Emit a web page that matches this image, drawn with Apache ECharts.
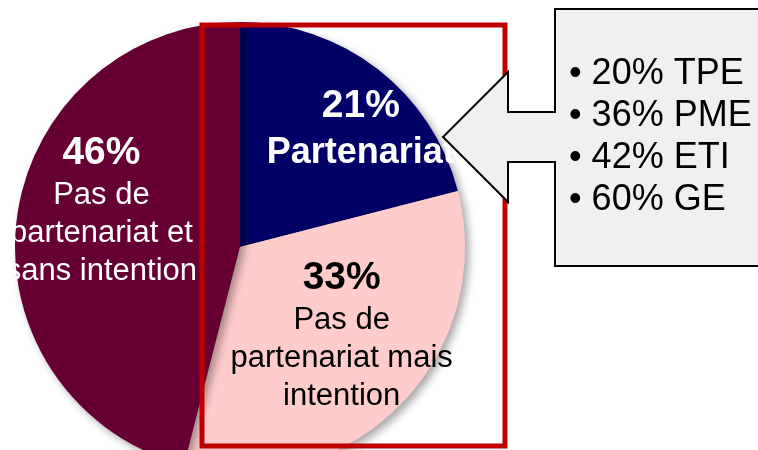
<!DOCTYPE html>
<html>
<head>
    <meta charset="utf-8">
    <title>Partenariat</title>
    <script src="https://cdn.jsdelivr.net/npm/echarts@6/dist/echarts.min.js"></script>
    <style>
        body { margin: 0; background: #fff; }
    </style>
</head>
<body>
<div id="main" style="width: 758px;height:450px;"></div>
<script type="text/javascript">
    // données
    var categories = ['Partenariat', 'Pas de\npartenariat mais\nintention', 'Pas de\npartenariat et\nsans intention'];
    var values = [21, 33, 46];
    var sliceColors = ['#000066', '#FFCCCC', '#660033'];
    var calloutLines = ['20% TPE', '36% PME', '42% ETI', '60% GE'];

    var FONT = 'Arial, "Liberation Sans", sans-serif';

    // décalage des étiquettes par rapport à la position "inside"
    var labelShift = [[50, -26], [20, 7], [-24, -22]];

    var labelStyles = [
        { color: '#fff', weight: 'bold' },
        { color: '#000', weight: 'normal' },
        { color: '#fff', weight: 'normal' }
    ];

    var myChart = echarts.init(document.getElementById('main'));

    var pieData = categories.map(function (name, i) {
        var st = labelStyles[i];
        return {
            name: name,
            value: values[i],
            itemStyle: { color: sliceColors[i] },
            label: {
                rich: {
                    p: { fontSize: 39, fontWeight: 'bold', color: st.color, fontFamily: FONT, lineHeight: 46 },
                    t: { fontSize: i === 0 ? 36 : 31, fontWeight: st.weight, color: st.color, fontFamily: FONT, lineHeight: i === 0 ? 46 : 38 }
                }
            }
        };
    });

    // flèche de la bulle (gauche) + boîte
    var calloutPoints = [
        [555, 9], [770, 9], [770, 266], [555, 266], [555, 162], [508, 162],
        [508, 202], [443, 137], [508, 72], [508, 112], [555, 112]
    ];

    var graphics = [
        {
            type: 'rect',
            z: 100,
            shape: { x: 202, y: 25, width: 303, height: 421 },
            style: { fill: null, stroke: '#C00000', lineWidth: 5 }
        },
        {
            type: 'polygon',
            z: 101,
            shape: { points: calloutPoints },
            style: { fill: '#F0F0F0', stroke: '#000', lineWidth: 2 }
        }
    ];
    calloutLines.forEach(function (txt, i) {
        graphics.push({
            type: 'text',
            z: 102,
            x: 569,
            y: 74 + i * 42,
            style: {
                text: '\u2022 ' + txt,
                font: '36px ' + FONT,
                fill: '#000',
                verticalAlign: 'middle'
            }
        });
    });

    var option = {
        animation: false,
        series: [
            {
                type: 'pie',
                center: [240, 247],
                radius: 225,
                startAngle: 90,
                clockwise: true,
                itemStyle: {
                    shadowBlur: 8,
                    shadowOffsetX: 4,
                    shadowOffsetY: 4,
                    shadowColor: 'rgba(0,0,0,0.35)'
                },
                label: {
                    show: true,
                    position: 'inside',
                    align: 'center',
                    textBorderWidth: 0,
                    formatter: function (p) {
                        return '{p|' + p.value + '%}\n' + p.name.split('\n').map(function (s) {
                            return '{t|' + s + '}';
                        }).join('\n');
                    }
                },
                labelLayout: function (params) {
                    var s = labelShift[params.dataIndex];
                    return { dx: s[0], dy: s[1] };
                },
                emphasis: { disabled: true },
                data: pieData
            }
        ],
        graphic: graphics
    };
    myChart.setOption(option);
</script>
</body>
</html>
